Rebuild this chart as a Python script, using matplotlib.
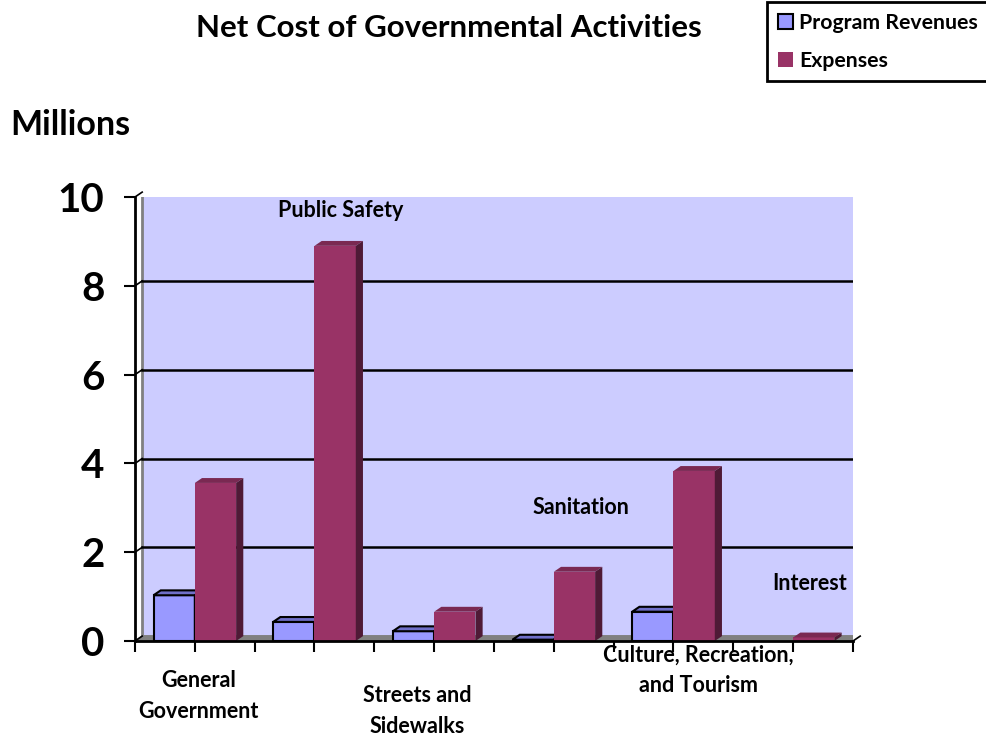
import matplotlib
matplotlib.use("Agg")
import matplotlib.pyplot as plt
from matplotlib.patches import Polygon, Patch

categories = ["General\nGovernment", "Public Safety", "Streets and\nSidewalks",
              "Sanitation", "Culture, Recreation,\nand Tourism", "Interest"]
program_revenues = [1.03, 0.43, 0.22, 0.03, 0.66, 0.0]
expenses = [3.56, 8.90, 0.66, 1.56, 3.83, 0.08]
yticks = [0, 2, 4, 6, 8, 10]
# label placement (x offset from category centre, y in data units)
label_dx = [0.03, 0.22, -0.14, 0.23, 0.21, 0.14]
label_y = [-1.24, 9.7, -1.58, 3.0, -0.66, 1.3]

plt.rcParams['font.family'] = ['Lato', 'DejaVu Sans']

fig = plt.figure(figsize=(9.87, 7.36), dpi=100)
ax = fig.add_axes([135/987, 95/736, 718/987, 444/736])
ax.set_xlim(0, 6)
ax.set_ylim(0, 10)

dx = 0.06   # depth offset in x (data)
dy = 0.11   # depth offset in y (data)
w = 0.345

c_rev = '#9999FF'
c_rev_top = '#6F6FC8'
c_rev_side = '#5555A0'
c_exp = '#993366'
c_exp_top = '#7A2952'
c_exp_side = '#4F1A36'

wall = Polygon([(dx, dy), (6 + dx, dy), (6 + dx, 10 + dy), (dx, 10 + dy)],
               closed=True, facecolor='#CCCCFF', edgecolor='#808080', lw=2, zorder=0)
ax.add_patch(wall)
floor = Polygon([(0, 0), (6, 0), (6 + dx, dy), (dx, dy)], closed=True,
                facecolor='#808080', edgecolor='#808080', lw=1, zorder=1)
ax.add_patch(floor)
for v in yticks[1:-1]:
    ax.plot([dx, 6 + dx], [v + dy, v + dy], color='black', lw=1.8, zorder=1)
for v in yticks:
    ax.plot([0, dx], [v, v + dy], color='black', lw=1.2, zorder=1, clip_on=False)
ax.plot([6, 6 + dx], [0, dy], color='black', lw=1.2, zorder=1, clip_on=False)


def bar3d(x0, h, face, top, side, edge, z):
    ec = 'black' if edge else face
    lw = 1.5 if edge else 0
    ax.bar(x0, h, width=w, align='edge', color=face, edgecolor=ec, lw=lw, zorder=z)
    ax.add_patch(Polygon([(x0, h), (x0 + w, h), (x0 + w + dx, h + dy), (x0 + dx, h + dy)],
                         closed=True, facecolor=top, edgecolor=ec, lw=lw, zorder=z))
    ax.add_patch(Polygon([(x0 + w, 0), (x0 + w + dx, dy), (x0 + w + dx, h + dy), (x0 + w, h)],
                         closed=True, facecolor=side, edgecolor=ec, lw=lw, zorder=z))


for i in range(len(categories)):
    c = i + 0.5
    if program_revenues[i] > 0:
        bar3d(c - w, program_revenues[i], c_rev, c_rev_top, c_rev_side, True, 3 + 2 * i)
    bar3d(c, expenses[i], c_exp, c_exp_top, c_exp_side, False, 4 + 2 * i)

for sp in ['top', 'right']:
    ax.spines[sp].set_visible(False)
for sp in ['left', 'bottom']:
    ax.spines[sp].set_linewidth(2)
    ax.spines[sp].set_zorder(20)

ax.set_yticks(yticks)
ax.set_yticklabels([str(v) for v in yticks], fontsize=29, fontweight='bold')
ax.tick_params(axis='y', length=8, width=1.5, pad=14)
ax.set_xticks([k * 0.5 for k in range(13)])
ax.set_xticklabels([])
ax.tick_params(axis='x', length=8, width=1.5, direction='out')

for i, name in enumerate(categories):
    ax.text(i + 0.5 + label_dx[i], label_y[i], name, ha='center', va='center', fontsize=15.5,
            fontweight='bold', linespacing=1.55, clip_on=False, zorder=30)

fig.text(449/987, 1 - 28/736, "Net Cost of Governmental Activities", ha='center',
         va='center', fontsize=22.5, fontweight='bold')
fig.text(10/987, 1 - 125/736, "Millions", ha='left', va='center', fontsize=24.5,
         fontweight='bold')

handles = [Patch(facecolor=c_rev, edgecolor='black', lw=1.5),
           Patch(facecolor=c_exp, edgecolor='none')]
leg = fig.legend(handles, ["Program Revenues", "Expenses"], loc='upper left',
                 bbox_to_anchor=(767/987, 1 - 2/736), prop={'weight': 'bold', 'size': 15.3},
                 handlelength=0.7, handleheight=0.7, handletextpad=0.32, labelspacing=0.85,
                 borderpad=0.5, fancybox=False, framealpha=1, borderaxespad=0)
leg.get_frame().set_edgecolor('black')
leg.get_frame().set_linewidth(2)

fig.savefig("out.png", dpi=100)
